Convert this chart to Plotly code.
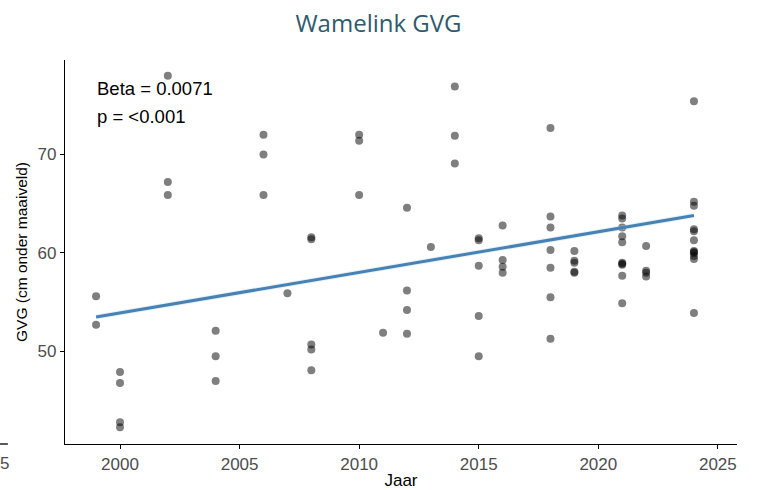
import plotly.graph_objects as go

years = [1999, 1999,
         2000, 2000, 2000, 2000,
         2002, 2002, 2002,
         2004, 2004, 2004,
         2006, 2006, 2006,
         2007,
         2008, 2008, 2008, 2008, 2008,
         2010, 2010, 2010,
         2011,
         2012, 2012, 2012, 2012,
         2013,
         2014, 2014, 2014,
         2015, 2015, 2015, 2015, 2015,
         2016, 2016, 2016, 2016,
         2018, 2018, 2018, 2018, 2018, 2018, 2018,
         2019, 2019, 2019, 2019, 2019,
         2021, 2021, 2021, 2021, 2021, 2021, 2021, 2021, 2021, 2021,
         2022, 2022, 2022, 2022,
         2024, 2024, 2024, 2024, 2024, 2024, 2024, 2024, 2024, 2024, 2024, 2024]
gvg = [55.6, 52.7,
       47.9, 46.8, 42.8, 42.3,
       78.0, 67.2, 65.9,
       52.1, 49.5, 47.0,
       72.0, 70.0, 65.9,
       55.9,
       61.6, 61.4, 50.7, 50.2, 48.1,
       72.0, 71.4, 65.9,
       51.9,
       64.6, 56.2, 54.2, 51.8,
       60.6,
       76.9, 71.9, 69.1,
       61.5, 61.3, 58.7, 53.6, 49.5,
       62.8, 59.3, 58.6, 58.0,
       72.7, 63.7, 62.6, 60.3, 58.5, 55.5, 51.3,
       60.2, 59.2, 59.0, 58.0, 58.1,
       63.8, 63.5, 62.6, 61.7, 61.1, 59.0, 58.9, 58.8, 57.7, 54.9,
       60.7, 58.2, 58.0, 57.6,
       75.4, 65.2, 64.8, 62.4, 62.2, 61.3, 60.2, 60.0, 59.7, 59.4, 53.9, 60.1]

trend_years = [1999, 2024]
trend_values = [53.5, 63.8]

x_ticks = [2000, 2005, 2010, 2015, 2020, 2025]
y_ticks = [50, 60, 70]

FONT = "Liberation Sans, Arial"

fig = go.Figure()
fig.add_trace(go.Scatter(
    x=years, y=gvg, mode="markers",
    marker=dict(size=8, color="rgba(0,0,0,0.5)", line=dict(width=0)),
    showlegend=False, hoverinfo="x+y"))
fig.add_trace(go.Scatter(
    x=trend_years, y=trend_values, mode="lines",
    line=dict(color="rgba(190,215,235,0.35)", width=5),
    showlegend=False, hoverinfo="skip"))
fig.add_trace(go.Scatter(
    x=trend_years, y=trend_values, mode="lines",
    line=dict(color="#4682B4", width=3),
    showlegend=False))

axis_common = dict(
    showgrid=False, zeroline=False, showline=True, linecolor="black",
    linewidth=1.3, ticks="outside", ticklen=4, tickcolor="black",
    automargin=False,
    tickfont=dict(family=FONT, size=17, color="#4d4d4d"),
)
fig.update_xaxes(range=[1997.7, 2025.8], tickvals=x_ticks,
                 title=dict(text="Jaar", font=dict(family=FONT, size=17, color="black"), standoff=2),
                 **axis_common)
fig.update_yaxes(range=[40.6, 79.6], tickvals=y_ticks,
                 title=dict(text="GVG (cm onder maaiveld)", font=dict(family=FONT, size=15.5, color="black"), standoff=6),
                 **axis_common)

fig.add_annotation(x=0.045, y=0.925, xref="paper", yref="paper", xanchor="left", yanchor="middle",
                   text="Beta = 0.0071", showarrow=False,
                   font=dict(family=FONT, size=18.5, color="black"))
fig.add_annotation(x=0.045, y=0.852, xref="paper", yref="paper", xanchor="left", yanchor="middle",
                   text="p = <0.001", showarrow=False,
                   font=dict(family=FONT, size=18.5, color="black"))
# cropped artifact at lower left
fig.add_annotation(x=-0.099, y=-0.05, xref="paper", yref="paper", xanchor="left", yanchor="middle",
                   text="5", showarrow=False,
                   font=dict(family=FONT, size=17, color="#4d4d4d"))
fig.add_shape(type="line", xref="paper", yref="paper", x0=-0.097, x1=-0.085, y0=0, y1=0,
              line=dict(color="black", width=1.3))

fig.update_layout(
    width=757, height=490,
    margin=dict(l=65, r=20, t=60, b=46),
    plot_bgcolor="white", paper_bgcolor="white",
    title=dict(text="Wamelink GVG", x=0.5, xanchor="center", y=0.952, yanchor="middle",
               font=dict(family="Open Sans", size=24, color="#2e5a6e")),
)
fig.write_html("out.html", config={"displayModeBar": False},
               post_script="document.body.style.margin='0';document.body.style.overflow='hidden';")
